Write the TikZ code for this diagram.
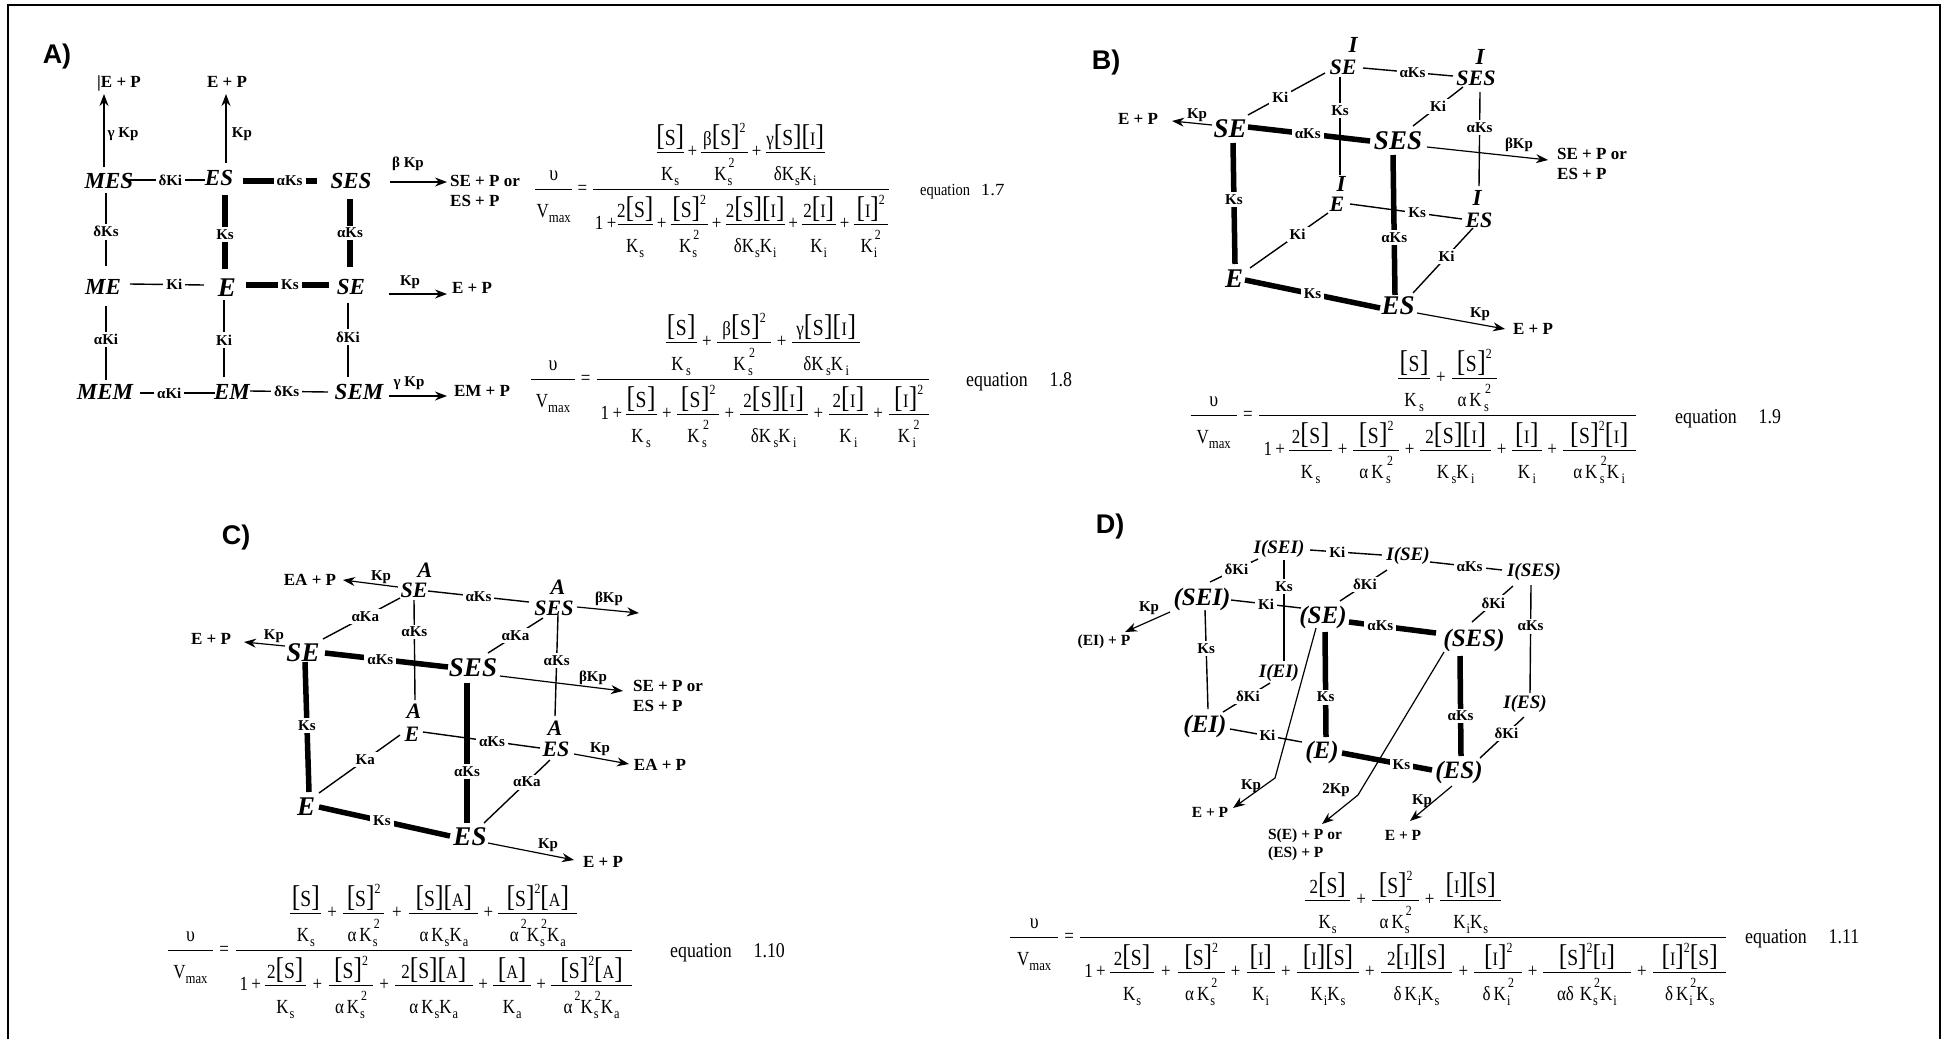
\documentclass[tikz,border=0pt]{standalone}
\usepackage{fontspec}
\usepackage{graphicx}
\usetikzlibrary{arrows.meta}
\setmainfont{Liberation Serif}
\newfontfamily\eqff[FakeStretch=0.85]{Liberation Serif}
\newfontfamily\headf{Liberation Sans}
% --- fractions built from boxes: the baseline of a fraction is its rule
\newcommand\Fr[5]{\hbox to #1pt{\hss\raise#2pt\hbox{#4}\hss}\kern-#1pt\hbox to #1pt{\hss\lower#3pt\hbox{#5}\hss}\kern-#1pt\vrule width #1pt height .5pt depth .5pt\relax}
\newcommand\Fi[3]{\Fr{#1}{7}{28}{#2}{#3}}
\newcommand\Fo[3]{\Fr{#1}{37}{35}{#2}{#3}}
\newcommand\Fl[1]{\Fr{#1}{9}{28}{{\fontsize{21}{21}\selectfont υ}}{V\lower5pt\hbox{\fontsize{15}{15}\selectfont max}}}
\newcommand\Gp[2]{\hbox to #1pt{\hss\lower5pt\hbox{#2}\hss}}
\def\kg{1pt}\def\bg{0pt}
\newcommand\zL[2]{{\fontsize{30}{30}\selectfont[}\kern\bg{\fontsize{#1}{#1}\selectfont #2}\kern\bg{\fontsize{30}{30}\selectfont]}}
\newcommand\zS{\zL{23}{S}}
\newcommand\zI{\zL{19}{I}}
\newcommand\zA{\zL{19}{A}}
\newcommand\zU{\raise13pt\hbox{\fontsize{14}{14}\selectfont 2}}
\newcommand\zK[1]{K\kern\kg\lower5pt\hbox{\fontsize{14.5}{14.5}\selectfont #1}}
\newcommand\zQ[1]{K\kern\kg\hbox{\rlap{\lower5pt\hbox{\fontsize{14.5}{14.5}\selectfont #1}}\kern1pt\raise13pt\hbox{\fontsize{14}{14}\selectfont 2}}}
% --- nodes remember their centres, links are given by node + end point
\newcommand\Pt[3]{\expandafter\gdef\csname px#1\endcsname{#2}\expandafter\gdef\csname py#1\endcsname{#3}}
\def\Nd[#1]#2(#3,#4)#5{\node[#1] (#2) at (#3,#4) {#5};\Pt{#2}{#3}{#4}}
\newcount\zc
\def\Lk[#1]#2(#3,#4)#5(#6,#7)#8#9{\global\advance\zc by 1
  \edef\ax{\csname px#2\endcsname}\edef\ay{\csname py#2\endcsname}\edef\bx{\csname px#5\endcsname}\edef\by{\csname py#5\endcsname}%
  \draw[#1] ([shift={(#3-\ax,#4-\ay)}]#2.center) -- ([shift={(#6-\bx,#7-\by)}]#5.center) node[lab,pos=#9] (lk\the\zc) {#8};}
\def\Ar#1(#2,#3)#4(#5,#6){%
  \edef\ax{\csname px#1\endcsname}\edef\ay{\csname py#1\endcsname}\edef\bx{\csname px#4\endcsname}\edef\by{\csname py#4\endcsname}%
  \draw[arr] ([shift={(#2-\ax,#3-\ay)}]#1.center) -- ([shift={(#5-\bx,#6-\by)}]#4.center);}
\tikzset{
  mol/.style={font=\fontsize{#1}{#1}\selectfont\bfseries\itshape,inner sep=0pt},
  cn/.style={line width=1.4pt},
  ck/.style={line width=5.5pt},
  arr/.style={line width=1.2pt,-{Stealth[length=12pt,width=9pt]}},
  lab/.style={font=\fontsize{15}{15}\selectfont\bfseries,fill=white,inner xsep=3pt,inner ysep=2.5pt},
  alab/.style={font=\fontsize{15}{15}\selectfont\bfseries,inner sep=0pt},
  bt/.style={font=\fontsize{17}{20}\selectfont\bfseries,inner sep=0pt,align=left},
  bts/.style={font=\fontsize{15.5}{18.5}\selectfont\bfseries,inner sep=0pt,align=left},
  head/.style={font=\headf\fontsize{27}{27}\selectfont\bfseries,inner sep=0pt},
  eqn/.style={font=\eqff\fontsize{20}{22}\selectfont,inner sep=0pt,anchor=base west},
  eqb/.style={font=\eqff\fontsize{20}{22}\selectfont\def\kg{2.5pt}\def\bg{.5pt},inner sep=0pt,anchor=base west},
  eqc/.style={font=\eqff\fontsize{20}{22}\selectfont\def\kg{1pt}\def\bg{0pt},inner sep=0pt,anchor=base west},
  eqt/.style={font=\eqff\fontsize{21}{21}\selectfont,inner sep=0pt,anchor=base west},
  eqs/.style={font=\eqff\fontsize{17}{17}\selectfont,inner sep=0pt,anchor=base west},
}
\begin{document}
\begin{tikzpicture}[x=1pt,y=-1pt]
\useasboundingbox (0,0) rectangle (1945,1039);
\fill[white] (0,0) rectangle (1945,1039);
\draw[line width=2.4pt] (8,1039) -- (8,5) -- (1940,5) -- (1940,1039);

% ===== A =====
\Nd[head]{ha}(57,57){A)}
\Nd[mol=23]{ames}(109,181){MES}
\Nd[mol=23]{aes}(219,178){ES}
\Nd[mol=23]{ases}(351,181){SES}
\Nd[mol=23]{ame}(103,287){ME}
\Nd[mol=27]{ae}(227,288){E}
\Nd[mol=23]{ase}(351,287){SE}
\Nd[mol=23]{amem}(105,392){MEM}
\Nd[mol=23]{aem}(232,392){EM}
\Nd[mol=23]{asem}(359,392){SEM}
\Nd[bt]{ap1}(119,83){|E + P}
\Nd[bt]{ap2}(227,82){E + P}
\Nd[bt]{ap3}(485,191){SE + P or\\ES + P}
\Nd[bt]{ap4}(472,288){E + P}
\Nd[bt]{ap5}(482,391){EM + P}
\Ar{ames}(104,167){ap1}(104,94)
\Ar{aes}(226,163){ap2}(226,94)
\Ar{ases}(390,182){ap3}(447,182)
\Ar{ase}(389,294){ap4}(447,294)
\Ar{asem}(389,396){ap5}(447,396)
\Nd[alab]{al1}(123,134){γ Kp}
\Nd[alab]{al2}(242,134){Kp}
\Nd[alab]{al3}(408,164){β Kp}
\Nd[alab]{al4}(410,282){Kp}
\Nd[alab]{al5}(409,383){γ Kp}
\Lk[cn]{ames}(128,180){aes}(205,180){δKi}{.55}
\Lk[ck]{aes}(243,181){ases}(317,181){αKs}{.63}
\Lk[cn]{ames}(106,193){ame}(106,266){δKs}{.53}
\Lk[ck]{aes}(225,195){ae}(225,269){Ks}{.54}
\Lk[ck]{ases}(350,199){ase}(350,267){αKs}{.5}
\Lk[cn]{ame}(130,284){ae}(204,285){Ki}{.6}
\Lk[ck]{ae}(246,285){ase}(329,285){Ks}{.53}
\Lk[cn]{ame}(106,306){amem}(106,380){αKi}{.45}
\Lk[cn]{ae}(224,300){aem}(224,377){Ki}{.52}
\Lk[cn]{ase}(348,303){asem}(348,377){δKi}{.46}
\Lk[cn]{amem}(140,393){aem}(215,393){αKi}{.39}
\Lk[cn]{aem}(250,391){asem}(328,392){δKs}{.47}

\node[eqn] (eq7) at (535,189) {\Fl{37}\Gp{20.5}{=}\Fo{296}{\Fi{27}{\zS}{\zK{s}}\Gp{17.5}{+}\Fi{46.5}{β\zS\zU}{\zQ{s}}\Gp{18}{+}\Fi{59}{γ\zS\zI}{δ\zK{s}\zK{i}}}{\Gp{24}{1\,+}\Fi{35}{2\zS}{\zK{s}}\Gp{18}{+}\Fi{37}{\zS\zU}{\zQ{s}}\Gp{18}{+}\Fi{59}{2\zS\zI}{δ\zK{s}\zK{i}}\Gp{17}{+}\Fi{34}{2\zI}{\zK{i}}\Gp{18}{+}\Fi{34}{\zI\zU}{\zQ{i}}}};
\node[eqs] (t7) at (920,195) {equation\hspace{11pt}\scalebox{1.3}[1]{1.7}};

\node[eqb] (eq8) at (531,379) {\Fl{43.6}\Gp{21.9}{=}\Fo{332.5}{\Fi{31}{\zS}{\zK{s}}\Gp{20.4}{+}\Fi{54}{β\zS\zU}{\zQ{s}}\Gp{21}{+}\Fi{68}{γ\zS\zI}{δ\zK{s}\zK{i}}}{\Gp{28.5}{1\,+}\Fi{31}{\zS}{\zK{s}}\Gp{20.5}{+}\Fi{42}{\zS\zU}{\zQ{s}}\Gp{20.5}{+}\Fi{68}{2\zS\zI}{δ\zK{s}\zK{i}}\Gp{21.7}{+}\Fi{38.4}{2\zI}{\zK{i}}\Gp{21}{+}\Fi{40}{\zI\zU}{\zQ{i}}}};
\node[eqt] (t8) at (966,386) {equation\hspace{22pt}1.8};

% ===== B =====
\Nd[head]{hb}(1106,63){B)}
\Nd[mol=23]{bi1}(1353,45){I}
\Nd[mol=22]{bseb}(1343,67){SE}
\Nd[mol=23]{bi2}(1480,57){I}
\Nd[mol=22]{bsesb}(1476,78){SES}
\Nd[mol=27]{bsef}(1230,129){SE}
\Nd[mol=27]{bsesf}(1398,141){SES}
\Nd[mol=23]{bi3}(1341,184){I}
\Nd[mol=22]{beb}(1337,204){E}
\Nd[mol=23]{bi4}(1477,198){I}
\Nd[mol=22]{besb}(1479,220){ES}
\Nd[mol=27]{bef}(1234,279){E}
\Nd[mol=27]{besf}(1398,306){ES}
\Nd[bt]{bp1}(1138,119){E + P}
\Nd[bt]{bp2}(1592,164){SE + P or\\ES + P}
\Nd[bt]{bp3}(1533,329){E + P}
\Ar{bsef}(1212,125){bp1}(1172,121)
\Ar{bsesf}(1427,147){bp2}(1548,160)
\Ar{besf}(1417,313){bp3}(1505,329)
\Nd[alab]{bl1}(1197,115){Kp}
\Nd[alab]{bl2}(1519,145){βKp}
\Nd[alab]{bl3}(1480,314){Kp}
\Lk[cn]{bseb}(1363,68){bsesb}(1453,76){αKs}{.55}
\Lk[cn]{bsef}(1248,115){bseb}(1325,73){Ki}{.42}
\Lk[cn]{bsesf}(1413,126){bsesb}(1463,87){Ki}{.5}
\Lk[cn]{bseb}(1340,77){beb}(1340,175){Ks}{.34}
\Lk[cn]{bsesb}(1480,92){besb}(1479,186){αKs}{.38}
\Lk[ck]{bsef}(1248,127){bsesf}(1370,141){αKs}{.49}
\Lk[ck]{bsef}(1233,143){bef}(1235,264){Ks}{.47}
\Lk[ck]{bsesf}(1393,155){besf}(1395,295){αKs}{.59}
\Lk[cn]{beb}(1350,204){besb}(1462,219){Ks}{.6}
\Lk[cn]{bef}(1250,268){beb}(1328,213){Ki}{.61}
\Lk[cn]{besf}(1413,293){besb}(1473,228){Ki}{.56}
\Lk[ck]{bef}(1245,280){besf}(1380,308){Ks}{.5}

\node[eqb] (eq9) at (1190.5,415) {\Fl{46}\Gp{22.4}{=}\Fo{377}{\Fi{32}{\zS}{\zK{s}}\Gp{21.5}{+}\Fi{45.5}{\zS\zU}{α\kern3pt\zQ{s}}}{\Gp{29.6}{1\,+}\Fi{43}{2\zS}{\zK{s}}\Gp{21}{+}\Fi{46}{\zS\zU}{α\kern3pt\zQ{s}}\Gp{21}{+}\Fi{71}{2\zS\zI}{\zK{s}\zK{i}}\Gp{21}{+}\Fi{29.5}{\zI}{\zK{i}}\Gp{21}{+}\Fi{73}{\zS\zU\zI}{α\kern3pt\zQ{s}\zK{i}}}};
\node[eqt] (t9) at (1675,423) {equation\hspace{22pt}1.9};

% ===== C =====
\Nd[head]{hc}(236,538){C)}
\Nd[mol=22]{ca1}(425,570){A}
\Nd[mol=22]{cseb}(414,590){SE}
\Nd[mol=22]{ca2}(558,587){A}
\Nd[mol=22]{csesb}(554,608){SES}
\Nd[mol=27]{csef}(303,653){SE}
\Nd[mol=27]{csesf}(473,668){SES}
\Nd[mol=22]{ca3}(414,711){A}
\Nd[mol=22]{ceb}(412,734){E}
\Nd[mol=22]{ca4}(555,728){A}
\Nd[mol=22]{cesb}(556,749){ES}
\Nd[mol=27]{cef}(306,807){E}
\Nd[mol=27]{cesf}(470,837){ES}
\Nd[bt]{cp1}(310,580){EA + P}
\Nd[bt]{cp2}(211,639){E + P}
\Nd[bt]{cp3}(668,696){SE + P or\\ES + P}
\Nd[bt]{cp4}(660,765){EA + P}
\Nd[bt]{cp5}(603,862){E + P}
\coordinate (cfree) at (639,613);\Pt{cfree}{639}{613}
\Ar{cseb}(398,587){cp1}(343,580)
\Ar{csef}(285,646){cp2}(244,642)
\Ar{csesb}(577,607){cfree}(639,613)
\Ar{csesf}(500,676){cp3}(623,691)
\Ar{cesb}(574,754){cp4}(629,764)
\Ar{cesf}(488,843){cp5}(574,860)
\Nd[alab]{cl1}(381,577){Kp}
\Nd[alab]{cl2}(274,636){Kp}
\Nd[alab]{cl3}(609,599){βKp}
\Nd[alab]{cl4}(593,678){βKp}
\Nd[alab]{cl5}(600,749){Kp}
\Nd[alab]{cl6}(548,845){Kp}
\Lk[cn]{cseb}(428,591){csesb}(529,602){αKs}{.5}
\Lk[cn]{csef}(323,639){cseb}(400,598){αKa}{.55}
\Lk[cn]{csesf}(488,653){csesb}(543,618){αKa}{.5}
\Lk[cn]{cseb}(414,600){ceb}(415,700){αKs}{.32}
\Lk[cn]{csesb}(558,615){cesb}(555,716){αKs}{.45}
\Lk[ck]{csef}(325,653){csesf}(448,667){αKs}{.45}
\Lk[ck]{csef}(305,662){cef}(309,792){Ks}{.49}
\Lk[ck]{csesf}(467,683){cesf}(467,823){αKs}{.63}
\Lk[cn]{ceb}(423,732){cesb}(540,748){αKs}{.59}
\Lk[cn]{cef}(319,793){ceb}(400,735){Ka}{.57}
\Lk[cn]{cesf}(484,823){cesb}(550,760){αKa}{.65}
\Lk[ck]{cef}(319,807){cesf}(450,836){Ks}{.48}

\node[eqc] (eq10) at (168,950) {\Fl{44.6}\Gp{22.8}{=}\Fo{396.6}{\Fi{31}{\zS}{\zK{s}}\Gp{21.5}{+}\Fi{41.5}{\zS\zU}{α\kern3pt\zQ{s}}\Gp{25}{+}\Fi{69}{\zS\zA}{α\kern3pt\zK{s}\zK{a}}\Gp{20}{+}\Fi{79}{\zS\zU\zA}{α\kern2pt\zU\zQ{s}\zK{a}}}{\Gp{28.6}{1\,+}\Fi{41.5}{2\zS}{\zK{s}}\Gp{22.8}{+}\Fi{44.5}{\zS\zU}{α\kern3pt\zQ{s}}\Gp{21.5}{+}\Fi{78}{2\zS\zA}{α\kern3pt\zK{s}\zK{a}}\Gp{20.6}{+}\Fi{37.4}{\zA}{\zK{a}}\Gp{20.6}{+}\Fi{80.4}{\zS\zU\zA}{α\kern2pt\zU\zQ{s}\zK{a}}}};
\node[eqt] (t10) at (670,957) {equation\hspace{22pt}1.10};

% ===== D =====
\Nd[head]{hd}(1110,527){D)}
\Nd[mol=19]{disei}(1279,549){I(SEI)}
\Nd[mol=19]{dise}(1408,556){I(SE)}
\Nd[mol=19]{dises}(1534,572){I(SES)}
\Nd[mol=25]{dsei}(1202,599){(SEI)}
\Nd[mol=25]{dse}(1323,617){(SE)}
\Nd[mol=25]{dses}(1474,640){(SES)}
\Nd[mol=19]{diei}(1279,673){I(EI)}
\Nd[mol=19]{dies}(1525,704){I(ES)}
\Nd[mol=25]{dei}(1205,726){(EI)}
\Nd[mol=25]{de}(1322,752){(E)}
\Nd[mol=25]{des}(1459,772){(ES)}
\Nd[bts]{dp1}(1104,642){(EI) + P}
\Nd[bts]{dp2}(1210,812){E + P}
\Nd[bts]{dp3}(1305,845){S(E) + P or\\(ES) + P}
\Nd[bts]{dp4}(1403,835){E + P}
\coordinate (dk1) at (1275,778);
\coordinate (dk2) at (1358,795);
\Ar{dsei}(1170,612){dp1}(1125,632)
\draw[arr] ([shift={(1316-1323,628-617)}]dse.center) -- (dk1) -- ([shift={(1233-1210,808-812)}]dp2.center);
\draw[arr] ([shift={(1444-1474,652-640)}]dses.center) -- (dk2) -- ([shift={(1322-1305,824-845)}]dp3.center);
\Ar{des}(1452,786){dp4}(1410,821)
\Nd[alab]{dl1}(1149,608){Kp}
\Nd[alab]{dl2}(1251,786){Kp}
\Nd[alab]{dl3}(1336,790){2Kp}
\Nd[alab]{dl4}(1422,801){Kp}
\Lk[cn]{disei}(1310,550){dise}(1382,555){Ki}{.38}
\Lk[cn]{dise}(1430,562){dises}(1502,570){αKs}{.55}
\Lk[cn]{dsei}(1210,582){disei}(1258,559){δKi}{.55}
\Lk[cn]{dse}(1340,601){dise}(1387,570){δKi}{.53}
\Lk[cn]{dses}(1472,622){dises}(1513,586){δKi}{.52}
\Lk[cn]{dsei}(1231,600){dse}(1301,608){Ki}{.5}
\Lk[ck]{dse}(1349,622){dses}(1436,633){αKs}{.36}
\Lk[cn]{dsei}(1205,610){dei}(1208,709){Ks}{.39}
\Lk[cn]{disei}(1284,560){diei}(1284,661){Ks}{.26}
\Lk[ck]{dse}(1325,632){de}(1326,737){Ks}{.62}
\Lk[ck]{dses}(1460,656){des}(1461,756){αKs}{.6}
\Lk[cn]{dises}(1531,585){dies}(1530,693){αKs}{.38}
\Lk[cn]{dei}(1223,712){diei}(1270,683){δKi}{.53}
\Lk[cn]{des}(1480,758){dies}(1524,717){δKi}{.6}
\Lk[cn]{dei}(1230,729){de}(1302,742){Ki}{.52}
\Lk[ck]{de}(1342,753){des}(1432,770){Ks}{.66}

\node[eqc] (eq11) at (1010,937) {\Fl{48}\Gp{22}{=}\Fo{646}{\Fi{45}{2\zS}{\zK{s}}\Gp{22}{+}\Fi{47}{\zS\zU}{α\kern3pt\zQ{s}}\Gp{21}{+}\Fi{61}{\zI\zS}{\zK{i}\zK{s}}}{\Gp{30}{1\,+}\Fi{44}{2\zS}{\zK{s}}\Gp{23.7}{+}\Fi{47}{\zS\zU}{α\kern3pt\zQ{s}}\Gp{22}{+}\Fi{28}{\zI}{\zK{i}}\Gp{22.3}{+}\Fi{62}{\zI\zS}{\zK{i}\zK{s}}\Gp{21.7}{+}\Fi{71.6}{2\zI\zS}{δ\kern3pt\zK{i}\zK{s}}\Gp{22}{+}\Fi{48}{\zI\zU}{δ\kern3pt\zQ{i}}\Gp{20.6}{+}\Fi{88}{\zS\zU\zI}{αδ\kern6pt\zQ{s}\zK{i}}\Gp{22}{+}\Fi{73.4}{\zI\zU\zS}{δ\kern3pt\zQ{i}\zK{s}}}};
\node[eqt] (t11) at (1745,943) {equation\hspace{22pt}1.11};
\end{tikzpicture}
\end{document}
